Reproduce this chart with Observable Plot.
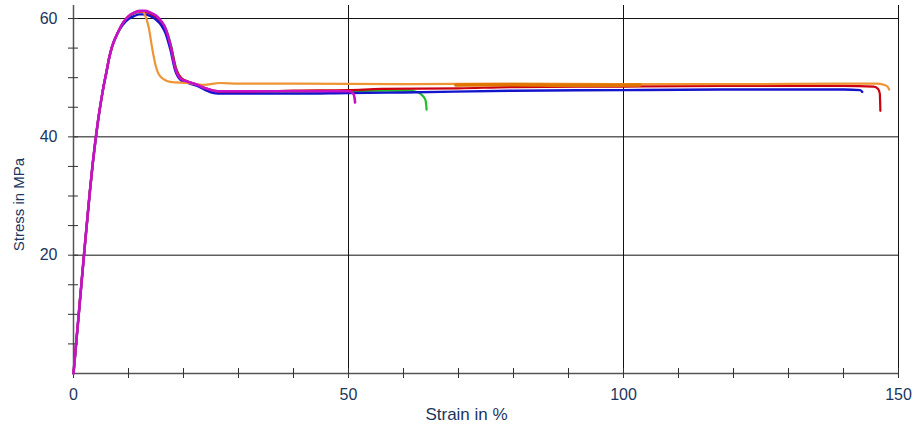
<!DOCTYPE html>
<html><head><meta charset="utf-8">
<script src="https://cdn.jsdelivr.net/npm/d3@7"></script>
<script src="https://cdn.jsdelivr.net/npm/@observablehq/plot@0.6"></script>
<style>
body{margin:0;background:#fff;}
#chart{width:914px;height:427px;}
</style></head><body><div id="chart"></div>
<script>
// shared elastic loading part (strain %, stress MPa)
const loadStrain = [0, 0.5, 1, 1.5, 2, 2.5, 3, 3.5, 4, 4.5, 5, 5.5, 6, 6.5, 7, 8];
const loadStress = [0, 5.3, 10.5, 15.8, 21, 26, 31, 35.5, 39.5, 43, 46, 48.7, 51, 53.4, 55.2, 57.5];

// per-specimen tails
const greenStrain = [9, 10, 11, 12, 13, 14, 15, 16, 16.8, 17.7, 18.6, 19.6, 20.6, 22.5, 24, 25.5, 27, 30, 40, 50, 55, 61, 62.3, 63.3, 64, 64.2];
const greenStress = [59.2, 60.3, 60.9, 61.1, 61.1, 60.8, 60.3, 59.4, 58.2, 55.6, 51.8, 49.9, 49.4, 48.8, 48.2, 47.7, 47.5, 47.5, 47.6, 47.7, 47.8, 47.8, 47.6, 47.1, 46.2, 44.6];

const redStrain = [9, 10, 11, 12, 13, 14, 15, 16, 16.8, 17.7, 18.6, 19.6, 20.6, 22.5, 24, 25.5, 27, 30, 40, 50, 56, 70, 80, 100, 120, 140, 145.5, 146.3, 146.6, 146.7];
const redStress = [59.2, 60.3, 60.9, 61.1, 61.1, 60.8, 60.2, 59.3, 58, 55.3, 51.6, 49.9, 49.4, 48.8, 48.2, 47.8, 47.6, 47.6, 47.8, 47.9, 48.1, 48.2, 48.4, 48.5, 48.6, 48.6, 48.5, 48.1, 47.3, 44.4];

const blueStrain = [9, 10, 11, 12, 13, 14, 15, 16, 16.7, 17.6, 18.5, 19.5, 20.5, 22.5, 24, 25.5, 27, 30, 40, 50, 60, 80, 100, 120, 140, 143, 143.4];
const blueStress = [59.0, 59.9, 60.4, 60.7, 60.7, 60.4, 59.8, 58.8, 57.6, 54.8, 51.2, 49.6, 49.2, 48.6, 47.9, 47.4, 47.3, 47.3, 47.3, 47.4, 47.5, 47.8, 47.9, 48.0, 48.0, 47.9, 47.6];

const orangeStrain = [9, 10, 11, 12, 12.6, 13, 13.7, 14.3, 14.9, 15.8, 17.6, 20.7, 23.7, 26.7, 30, 40, 60, 80, 100, 120, 140, 146, 147.3, 148, 148.3];
const orangeStress = [59.3, 60.4, 61.0, 61.2, 61.2, 60.6, 58.4, 55.0, 52.2, 50.2, 49.3, 49.1, 48.8, 49.1, 49.0, 49.0, 48.9, 49.0, 48.9, 48.9, 49.0, 49.0, 48.8, 48.5, 48.0];

const darkOrangeStrain = [69.5, 80, 90, 103];
const darkOrangeStress = [48.75, 48.8, 48.7, 48.75];

const magentaStrain = [9, 10, 11, 12, 13, 14, 15, 16, 16.7, 17.6, 18.5, 19.5, 20.5, 22.5, 24, 25.5, 27, 30, 40, 50, 50.8, 51.1, 51.2];
const magentaStress = [59.3, 60.4, 61.0, 61.3, 61.3, 61.0, 60.5, 59.5, 58.4, 55.6, 51.6, 49.8, 49.4, 48.8, 48.2, 47.8, 47.7, 47.7, 47.7, 47.7, 47.4, 46.6, 45.8];

const xMinorTicks = [0, 10, 20, 30, 40, 50, 60, 70, 80, 90, 100, 110, 120, 130, 140, 150];
const xLabelTicks = [0, 50, 100, 150];
const yMinorTicks = [5, 10, 15, 20, 25, 30, 35, 40, 45, 50, 55, 60];
const yLabelTicks = [20, 40, 60];
const xGrid = [50, 100, 150];
const yGrid = [20, 40, 60];

function series(name, xs, ys, withLoad) {
  const sx = withLoad ? loadStrain.concat(xs) : xs;
  const sy = withLoad ? loadStress.concat(ys) : ys;
  return sx.map((x, i) => ({name, strain: x, stress: sy[i]}));
}
const specimens = [
  {data: series("green", greenStrain, greenStress, true), color: "#1fbf2a", w: 2.2},
  {data: series("red", redStrain, redStress, true), color: "#cc0010", w: 2.2},
  {data: series("blue", blueStrain, blueStress, true), color: "#1414cc", w: 2.4},
  {data: series("orange", orangeStrain, orangeStress, true), color: "#ee9433", w: 2.2},
  {data: series("darkorange", darkOrangeStrain, darkOrangeStress, false), color: "#e07400", w: 3.5},
  {data: series("magenta", magentaStrain, magentaStress, true), color: "#c810c8", w: 2.6}
];

const textColor = "#1b355e";
const font = "Liberation Sans, Arial, sans-serif";

const chart = Plot.plot({
  width: 914, height: 427,
  marginLeft: 73, marginRight: 16, marginTop: 5, marginBottom: 54,
  x: {domain: [0, 150]},
  y: {domain: [0, 62.2]},
  style: {fontFamily: font, background: "#fff"},
  marks: [
    Plot.ruleX(xGrid, {stroke: "#111", strokeWidth: 1}),
    Plot.ruleY(yGrid, {stroke: "#111", strokeWidth: 1}),
    Plot.ruleX([0], {stroke: "#555", strokeWidth: 1.5}),
    Plot.ruleY([0], {stroke: "#555", strokeWidth: 1.5}),
    Plot.axisX(xMinorTicks, {tickSize: 10, dy: -5, tickFormat: () => "", label: null, stroke: "#333"}),
    Plot.axisY(yMinorTicks, {tickSize: 10, dx: 5, tickFormat: () => "", label: null, stroke: "#333"}),
    Plot.axisX(xLabelTicks, {tickSize: 0, tickPadding: 15, fontSize: 16, fill: textColor, label: null}),
    Plot.axisY(yLabelTicks, {tickSize: 0, tickPadding: 16, fontSize: 16, fill: textColor, label: null}),
    ...specimens.map(s => Plot.line(s.data, {x: "strain", y: "stress", stroke: s.color, strokeWidth: s.w, curve: "monotone-x"})),
    Plot.text(["Stress in MPa"], {frameAnchor: "left", textAnchor: "middle", rotate: -90, dx: -54.5, dy: 15, fontSize: 15, fill: textColor}),
    Plot.text(["Strain in %"], {frameAnchor: "bottom", textAnchor: "middle", dx: -19.5, dy: 46, fontSize: 17, fill: textColor})
  ]
});
document.getElementById("chart").appendChild(chart);
</script></body></html>
